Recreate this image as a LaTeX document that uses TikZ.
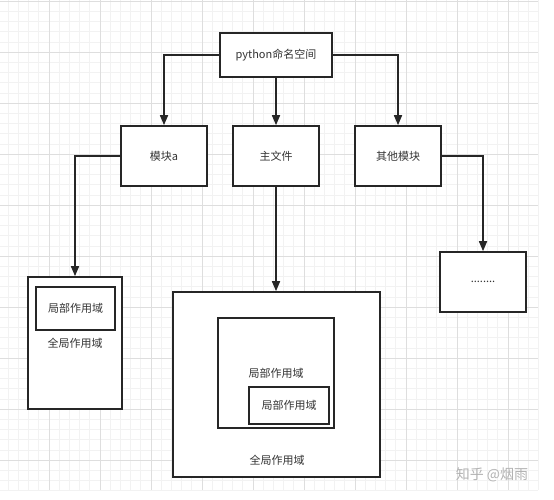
\documentclass[tikz,border=0pt]{standalone}
\usepackage{fontspec}
\setmainfont{Noto Sans CJK SC}
\usetikzlibrary{arrows.meta}

\begin{document}
\begin{tikzpicture}[x=1pt,y=-1pt,
    box/.style={draw=black!85,line width=1.6pt,fill=white,text=black!80,
      font=\fontsize{11}{13}\selectfont,inner sep=0pt},
    link/.style={draw=black!85,line width=1.6pt,-{Triangle[length=10pt,width=8pt]}}]
  \def\minorstep{10.2}
  \def\majorstep{51}
  \def\gridright{538}
  \def\gridbottom{490}

  \useasboundingbox (0,0) rectangle (554,500);

  \foreach \i in {0,...,53}
  {
    \draw[color=black!5,line width=.5pt]
        (\i*\minorstep-2.2,0) -- (\i*\minorstep-2.2,\gridbottom);
  }
  \foreach \j in {0,...,48}
  {
    \draw[color=black!5,line width=.5pt]
        (0,\j*\minorstep+1) -- (\gridright,\j*\minorstep+1);
  }
  \foreach \i in {1,...,10}
  {
    \draw[color=black!13,line width=.6pt]
        (\i*\majorstep-2,0) -- (\i*\majorstep-2,\gridbottom);
  }
  \foreach \j in {0,...,9}
  {
    \draw[color=black!13,line width=.6pt]
        (0,\j*\majorstep+1) -- (\gridright,\j*\majorstep+1);
  }

  \node[box,minimum width=112pt,minimum height=44pt] (python) at (276,55) {python命名空间};

  \node[box,minimum width=86pt,minimum height=60pt] (moda) at (164,156) {模块a};
  \node[box,minimum width=86pt,minimum height=60pt] (mainf) at (276,156) {主文件};
  \node[box,minimum width=86pt,minimum height=60pt] (other) at (398,156) {其他模块};

  \node[box,minimum width=94pt,minimum height=132pt] (globa) at (75,343) {全局作用域};
  \node[box,minimum width=79pt,minimum height=43pt] (loca) at (75.5,308.5) {局部作用域};

  \node[box,minimum width=207pt,minimum height=185pt] (globb) at (276.5,384.5) {};
  \node[box,draw=none,fill=none] (globbtext) at (277,460) {全局作用域};
  \node[box,minimum width=116pt,minimum height=110pt] (locb) at (276,373) {局部作用域};
  \node[box,minimum width=80pt,minimum height=37pt] (locc) at (289,405.5) {局部作用域};

  \node[box,minimum width=86pt,minimum height=60pt] (dots) at (483,282) {........};

  \draw[link] (python.west) -| (moda.north);
  \draw[link] (python.south) -- (mainf.north);
  \draw[link] (python.east) -| (other.north);
  \draw[link] (moda.west) -| (globa.north);
  \draw[link] (mainf.south) -- (mainf.south |- globb.north);
  \draw[link] (other.east) -| (dots.north);

  \node[text=black!30,font=\fontsize{14}{16}\selectfont] (mark) at (492,475) {知乎 @烟雨};
\end{tikzpicture}
\end{document}
